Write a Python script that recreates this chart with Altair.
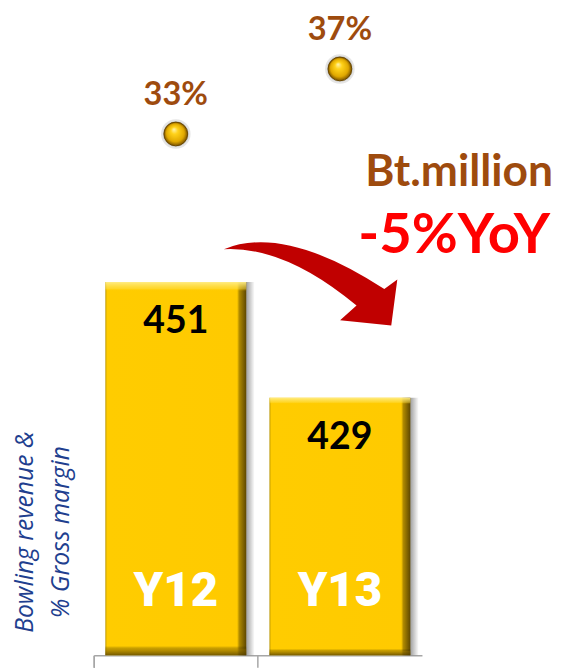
import altair as alt
import pandas as pd

# ---- data ----
years = ["Y12", "Y13"]
revenue = [451, 429]
revenue_labels = ["451", "429"]
margin = [33, 37]
margin_labels = ["33%", "37%"]
unit_note = ["Bt.million"]
yoy_note = ["-5%YoY"]
axis_title = ["Bowling revenue &\n% Gross margin"]

REV_MIN, REV_MAX = 380, 500.7
MAR_MIN, MAR_MAX = 0.94, 39.97
W, H = 333, 644
TOP = 8

df = pd.DataFrame({
    "year": years,
    "revenue": revenue,
    "rlabel": revenue_labels,
    "margin": margin,
    "mlabel": margin_labels,
    "base": [REV_MIN] * len(years),
})

BROWN = "#9E4B0E"
FONT = "Lato"

x = alt.X(
    "year:N",
    sort=years,
    scale=alt.Scale(paddingInner=0, paddingOuter=0),
    axis=alt.Axis(title=None, labels=False, grid=False, domainColor="#A6A6A6",
                  tickColor="#A6A6A6", tickSize=12, bandPosition=0, tickExtra=True,
                  domainWidth=1.5, tickWidth=1.5),
)
rev_y = alt.Y("revenue:Q", scale=alt.Scale(domain=[REV_MIN, REV_MAX], zero=False, nice=False), axis=None)
mar_y = alt.Y("margin:Q", scale=alt.Scale(domain=[MAR_MIN, MAR_MAX], zero=False, nice=False), axis=None)

def stops(pairs):
    return [alt.GradientStop(offset=o, color=c) for o, c in pairs]

shadow_grad = alt.LinearGradient(gradient="linear", x1=0, x2=1, y1=0, y2=0, stops=stops([
    (0, "rgba(0,0,0,0)"), (0.9, "rgba(0,0,0,0.0)"), (0.95, "rgba(0,0,0,0.35)"), (1, "rgba(0,0,0,0)")]))
bar_grad = alt.LinearGradient(gradient="linear", x1=0, x2=1, y1=0, y2=0, stops=stops([
    (0, "#B89400"), (0.012, "#FFCC00"), (0.935, "#FFCA00"), (0.95, "#B08A00"), (1, "#5E4700")]))
bevel_grad = alt.LinearGradient(gradient="linear", x1=0, x2=0, y1=0, y2=1, stops=stops([
    (0, "rgba(255,238,140,0.95)"), (0.018, "rgba(255,225,80,0.5)"), (0.024, "rgba(255,204,0,0)"),
    (0.975, "rgba(0,0,0,0)"), (0.985, "rgba(120,90,0,0.5)"), (1, "rgba(80,60,0,0.8)")]))
sphere_grad = alt.RadialGradient(gradient="radial", x1=0.42, y1=0.3, r1=0, x2=0.5, y2=0.5, r2=0.5, stops=stops([
    (0, "#FFF4B0"), (0.3, "#FFD21A"), (0.75, "#E0A800"), (1, "#7A5200")]))

base = alt.Chart(df)

shadow = base.mark_bar(size=160, color=shadow_grad).encode(x=x, y=rev_y, y2="base:Q")
bars = base.mark_bar(size=143, color=bar_grad).encode(x=x, y=rev_y, y2="base:Q")
bevel = base.mark_bar(size=143, color=bevel_grad).encode(x=x, y=rev_y, y2="base:Q")
rlabels = base.mark_text(dy=41, fontSize=38, font=FONT, fontWeight="bold", color="black",
                         baseline="middle").encode(x=x, y=rev_y, text="rlabel:N")
ylabels = base.mark_text(fontSize=48, font="Roboto", fontWeight=900, color="white",
                         baseline="middle").encode(x=x, y=alt.value(H - 64), text="year:N")
rev_layer = alt.layer(shadow, bars, bevel, rlabels, ylabels)

glow = base.mark_circle(size=900, color="#000000", opacity=0.1).encode(x=x, y=mar_y)
glow2 = base.mark_circle(size=680, color="#000000", opacity=0.15).encode(x=x, y=mar_y)
spheres = base.mark_circle(size=580, fill=sphere_grad, stroke="#6B4800", strokeWidth=1,
                           opacity=1).encode(x=x, y=mar_y)
mlabels = base.mark_text(dy=-39, fontSize=33, font=FONT, fontWeight="bold", color=BROWN,
                         baseline="middle").encode(x=x, y=mar_y, text="mlabel:N")
mar_layer = alt.layer(glow, glow2, spheres, mlabels)

note1 = alt.Chart(pd.DataFrame({"t": unit_note})).mark_text(
    fontSize=45, font=FONT, fontWeight="bold", color=BROWN, align="right", baseline="alphabetic"
).encode(x=alt.value(466), y=alt.value(176 - TOP), text="t:N")
note2 = alt.Chart(pd.DataFrame({"t": yoy_note})).mark_text(
    fontSize=57, font=FONT, fontWeight="bold", color="#FF0000", align="right", baseline="alphabetic"
).encode(x=alt.value(463), y=alt.value(244 - TOP), text="t:N")

ARROW = "M -1 -0.41 Q -0.3 -0.7 0.85 0.05 L 1 -0.06 L 0.93 0.47 L 0.34 0.41 L 0.53 0.24 Q -0.3 -0.45 -1 -0.41 Z"
arrow = alt.Chart(pd.DataFrame({"a": [1]})).mark_point(
    shape=ARROW, size=176 * 176, filled=True, fill="#C00000", opacity=1, strokeWidth=0
).encode(x=alt.value(220), y=alt.value(276 - TOP))

title = alt.Chart(pd.DataFrame({"t": axis_title})).mark_text(
    fontSize=25, font="Open Sans", fontStyle="italic", color="#1F3F8F", angle=270,
    align="center", baseline="middle", lineBreak="\n", lineHeight=37
).encode(x=alt.value(-70), y=alt.value(527 - TOP), text="t:N")

chart = alt.layer(rev_layer, mar_layer, note1, note2, arrow, title).resolve_scale(
    y="independent"
).properties(
    width=W, height=H,
    autosize=alt.AutoSizeParams(type="none"),
    padding={"left": 87, "top": TOP, "right": 136, "bottom": 8},
    background="white",
).configure_view(stroke=None)

chart.save("out.html", embed_options={"renderer": "svg", "actions": False})
